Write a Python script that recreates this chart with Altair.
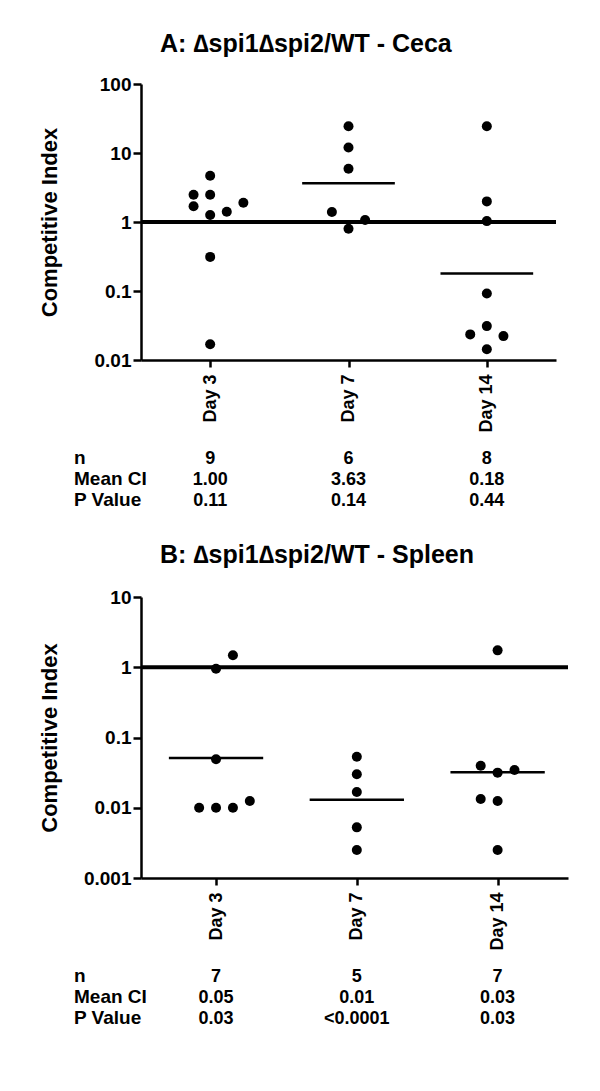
import altair as alt
import pandas as pd

FONT = "Liberation Sans"

days = ["Day 3", "Day 7", "Day 14"]
row_labels = ["n", "Mean CI", "P Value"]

# Panel A: Ceca
a_title = "A: \u2206spi1\u2206spi2/WT - Ceca"
a_day3 = [4.68, 2.48, 2.48, 1.69, 1.90, 1.41, 1.26, 0.312, 0.0169]
a_day3_slot = [0, -1, 0, -1, 2, 1, 0, 0, 0]
a_day7 = [24.4, 12.0, 5.9, 1.40, 1.07, 0.80]
a_day7_slot = [0, 0, 0, -1, 1, 0]
a_day14 = [24.4, 1.99, 1.03, 0.092, 0.031, 0.0235, 0.0222, 0.0143]
a_day14_slot = [0, 0, 0, 0, 0, -1, 1, 0]
a_means = [1.00, 3.63, 0.18]
a_n = ["9", "6", "8"]
a_meanci = ["1.00", "3.63", "0.18"]
a_pval = ["0.11", "0.14", "0.44"]
a_ticks = [0.01, 0.1, 1, 10, 100]

# Panel B: Spleen
b_title = "B: \u2206spi1\u2206spi2/WT  - Spleen"
b_day3 = [1.48, 0.95, 0.0489, 0.0100, 0.0100, 0.0100, 0.0125]
b_day3_slot = [1, 0, 0, -1, 0, 1, 2]
b_day7 = [0.0533, 0.0299, 0.0168, 0.00526, 0.00251]
b_day7_slot = [0, 0, 0, 0, 0]
b_day14 = [1.74, 0.0397, 0.0316, 0.0344, 0.0133, 0.0125, 0.00251]
b_day14_slot = [0, -1, 0, 1, -1, 0, 0]
b_means = [0.051, 0.013, 0.032]
b_n = ["7", "5", "7"]
b_meanci = ["0.05", "0.01", "0.03"]
b_pval = ["0.03", "<0.0001", "0.03"]
b_ticks = [0.001, 0.01, 0.1, 1, 10]

reference_value = 1

SLOT_W = 0.12
MEAN_HW = 0.335
ROW_OFFS = [104, 125, 146]


def panel(groups, slots, means, n, meanci, pval, ticks, w, h, title, title_dx,
          title_offset, x_lo):
    rows = []
    for i, (vals, sl) in enumerate(zip(groups, slots)):
        for v, s in zip(vals, sl):
            rows.append({"day": i + 1, "v": v, "slot": s})
    pts = pd.DataFrame(rows)
    mdf = pd.DataFrame({"day": [1, 2, 3], "mean": means})
    tdf = pd.DataFrame({"day": [1, 2, 3], "n": n, "m": meanci, "p": pval})
    ldf = pd.DataFrame({"lab": row_labels, "off": ROW_OFFS})
    rdf = pd.DataFrame({"v": [reference_value]})

    xs = alt.Scale(domain=[x_lo, 3.5], nice=False, zero=False)
    ys = alt.Scale(type="log", domain=[ticks[0], ticks[-1]], nice=False)
    label_expr = "[" + ",".join("'%s'" % d for d in days) + "][datum.value - 1]"
    xax = alt.Axis(values=[1, 2, 3], labelExpr=label_expr, labelAngle=-90,
                   tickSize=7, labelPadding=7, grid=False, labelFontSize=18,
                   labelFont=FONT, labelFontWeight="bold", labelColor="black",
                   domainColor="black", domainWidth=2.5, tickColor="black",
                   tickWidth=2.5)
    yax = alt.Axis(values=ticks, format="~g", tickSize=8, labelPadding=2,
                   grid=False, labelFontSize=19, titleFontSize=22,
                   labelFont=FONT, labelFontWeight="bold", labelColor="black",
                   titleFont=FONT, titleFontWeight="bold", titleColor="black",
                   domainColor="black", domainWidth=2.5, tickColor="black",
                   tickWidth=2.5,
                   titleX=-85, titleY=h / 2, titleBaseline="alphabetic",
                   titleAngle=270, titleAlign="center")
    X = lambda f: alt.X(f, scale=xs, axis=xax, title=None)
    Y = lambda f: alt.Y(f, scale=ys, axis=yax, title="Competitive Index")

    ref = alt.Chart(rdf).mark_rule(color="black", strokeWidth=4).encode(
        y=Y("v:Q"), x=alt.value(0), x2=alt.value(w))
    mean = alt.Chart(mdf).transform_calculate(
        x1="datum.day - %f" % MEAN_HW, x2="datum.day + %f" % MEAN_HW
    ).mark_rule(color="black", strokeWidth=2.5).encode(
        x=X("x1:Q"), x2="x2:Q", y=Y("mean:Q"))
    dots = alt.Chart(pts).transform_calculate(
        xpos="datum.day + datum.slot * %f" % SLOT_W
    ).mark_circle(color="black", opacity=1, size=100).encode(
        x=X("xpos:Q"), y=Y("v:Q"))
    txt_layers = []
    for col, off in zip(["n", "m", "p"], ROW_OFFS):
        txt_layers.append(
            alt.Chart(tdf).mark_text(font=FONT, fontWeight="bold", fontSize=18,
                                     color="black", align="center",
                                     baseline="alphabetic").encode(
                x=X("day:Q"), y=alt.value(h + off), text=col + ":N"))
    lab_layers = []
    for lab, off in zip(row_labels, ROW_OFFS):
        lab_layers.append(
            alt.Chart(ldf).transform_filter(alt.datum.lab == lab).mark_text(
                font=FONT, fontWeight="bold", fontSize=19, color="black",
                align="left", baseline="alphabetic").encode(
                x=alt.value(-67), y=alt.value(h + off), text="lab:N"))
    return alt.layer(ref, mean, dots, *txt_layers, *lab_layers).properties(
        width=w, height=h,
        title=alt.TitleParams(title, anchor="start", frame="group", dx=title_dx,
                              fontSize=25, font=FONT, fontWeight="bold",
                              color="black", offset=title_offset))


pa = panel([a_day3, a_day7, a_day14], [a_day3_slot, a_day7_slot, a_day14_slot],
           a_means, a_n, a_meanci, a_pval, a_ticks, 415, 276, a_title, 19, 18,
           0.5)
pb = panel([b_day3, b_day7, b_day14], [b_day3_slot, b_day7_slot, b_day14_slot],
           b_means, b_n, b_meanci, b_pval, b_ticks, 427, 281, b_title, 19, 20,
           0.467)

chart = alt.vconcat(pa, pb, spacing=33).properties(
    padding={"left": 30, "top": 24, "right": 5, "bottom": 5},
    background="white"
).configure_view(stroke=None)

chart.save("out.html", embed_options={"renderer": "svg", "actions": False})
